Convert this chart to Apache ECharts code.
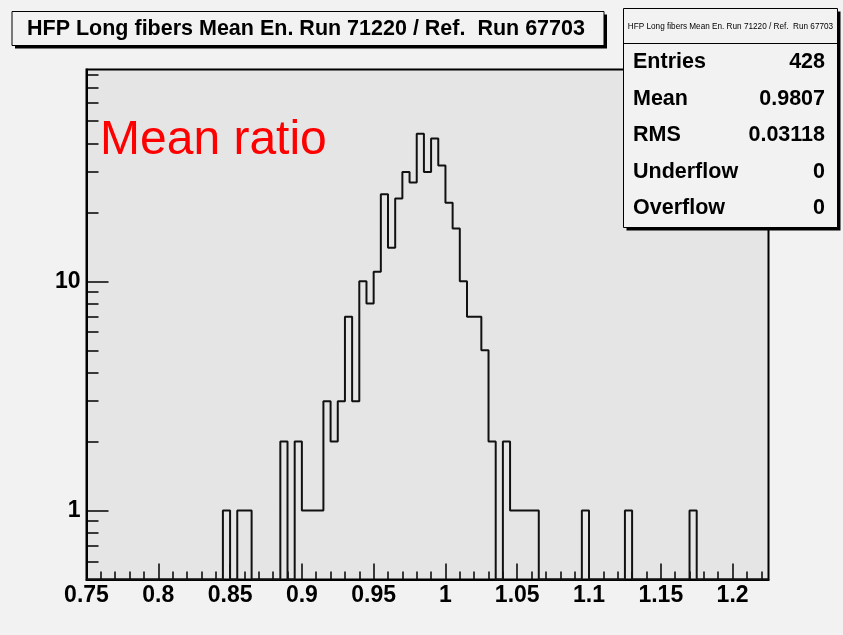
<!DOCTYPE html>
<html>
<head>
<meta charset="utf-8">
<script src="https://cdn.jsdelivr.net/npm/echarts@6/dist/echarts.min.js"></script>
<style>
  html, body { margin: 0; padding: 0; background: #f2f2f2; }
  #chart { width: 843px; height: 635px; }
</style>
</head>
<body>
<div id="chart"></div>
<script>
// Binning of the mean-energy ratio histogram
const BIN_START = 0.75;
const BIN_WIDTH = 0.005;
const X_MIN = 0.75;
const X_MAX = 1.225;
const Y_MIN = 0.5;
const Y_MAX = 84;

// Entries per 0.005-wide bin, first bin starts at 0.75 (95 bins)
const counts = [
  0, 0, 0, 0, 0, 0, 0, 0, 0, 0,
  0, 0, 0, 0, 0, 0, 0, 0, 0, 1,
  0, 1, 1, 0, 0, 0, 0, 2, 0, 2,
  1, 1, 1, 3, 2, 3, 7, 3, 10, 8,
  11, 24, 14, 23, 30, 27, 44, 30, 42, 32,
  22, 17, 10, 7, 7, 5, 2, 0, 2, 1,
  1, 1, 1, 0, 0, 0, 0, 0, 0, 1,
  0, 0, 0, 0, 0, 1, 0, 0, 0, 0,
  0, 0, 0, 0, 1, 0, 0, 0, 0, 0,
  0, 0, 0, 0, 0
];

// Axis tick labels
const xTickLabels = ['0.75', '0.8', '0.85', '0.9', '0.95', '1', '1.05', '1.1', '1.15', '1.2'];
const xMinorStep = 0.01;
const yTickLabels = ['1', '10'];
const yMinorTicks = [0.6, 0.7, 0.8, 0.9, 2, 3, 4, 5, 6, 7, 8, 9, 20, 30, 40, 50, 60, 70, 80];

// Title and statistics box texts
const titleText = 'HFP Long fibers Mean En. Run 71220 / Ref.  Run 67703';
const statNames = ['Entries', 'Mean', 'RMS', 'Underflow', 'Overflow'];
const statValues = ['428', '0.9807', '0.03118', '0', '0'];
const noteText = 'Mean ratio';

const FONT = '"Liberation Sans", Arial, Helvetica, sans-serif';

const xMajor = xTickLabels.map(Number);
const xMinor = [];
for (let v = X_MIN; v <= X_MAX + 1e-9; v += xMinorStep) {
  const r = Math.round(v * 1000) / 1000;
  if (!xMajor.some(m => Math.abs(m - r) < 1e-6)) xMinor.push(r);
}
const yMajor = yTickLabels.map(Number);

// Outline of the histogram: one step per bin, empty bins sit on the frame bottom
const stepData = counts.map((c, i) => [
  Math.round((BIN_START + i * BIN_WIDTH) * 10000) / 10000,
  Math.max(c, Y_MIN)
]);
stepData.push([
  Math.round((BIN_START + counts.length * BIN_WIDTH) * 10000) / 10000,
  Math.max(counts[counts.length - 1], Y_MIN)
]);

function labelFor(list, labels, v) {
  let best = 0;
  for (let i = 1; i < list.length; i++) {
    if (Math.abs(list[i] - v) < Math.abs(list[best] - v)) best = i;
  }
  return labels[best];
}

const GRID = { left: 86.5, top: 69.5, width: 682, height: 510 };

const statsBox = { x: 623.5, y: 8.5, w: 214, h: 219, header: 35 };
const statRowY0 = 62;
const statRowStep = 36.6;

const graphics = [];
// Title pave with shadow
graphics.push({ type: 'rect', z: 10, shape: { x: 15, y: 14.5, width: 592, height: 34 }, style: { fill: '#000' } });
graphics.push({ type: 'rect', z: 11, shape: { x: 12, y: 11.5, width: 592, height: 34 }, style: { fill: '#f2f2f2', stroke: '#000', lineWidth: 1 } });
graphics.push({ type: 'text', z: 12, style: { x: 27, y: 29, text: titleText, font: 'bold 21.5px ' + FONT, fill: '#000', verticalAlign: 'middle' } });

// Statistics pave with shadow
graphics.push({ type: 'rect', z: 10, shape: { x: statsBox.x + 3, y: statsBox.y + 3, width: statsBox.w, height: statsBox.h }, style: { fill: '#000' } });
graphics.push({ type: 'rect', z: 11, shape: { x: statsBox.x, y: statsBox.y, width: statsBox.w, height: statsBox.h }, style: { fill: '#f2f2f2', stroke: '#000', lineWidth: 1 } });
graphics.push({ type: 'line', z: 12, shape: { x1: statsBox.x, y1: statsBox.y + statsBox.header, x2: statsBox.x + statsBox.w, y2: statsBox.y + statsBox.header }, style: { stroke: '#000', lineWidth: 1 } });
graphics.push({ type: 'text', z: 12, style: { x: statsBox.x + statsBox.w / 2, y: statsBox.y + statsBox.header / 2 + 0.5, text: titleText, font: '8.2px ' + FONT, fill: '#000', align: 'center', verticalAlign: 'middle' } });
statNames.forEach((name, i) => {
  const y = statRowY0 + i * statRowStep;
  graphics.push({ type: 'text', z: 12, style: { x: 633, y: y, text: name, font: 'bold 21.5px ' + FONT, fill: '#000', verticalAlign: 'middle' } });
  graphics.push({ type: 'text', z: 12, style: { x: 825, y: y, text: statValues[i], font: 'bold 21.5px ' + FONT, fill: '#000', align: 'right', verticalAlign: 'middle' } });
});

// Red annotation inside the frame
graphics.push({ type: 'text', z: 12, style: { x: 100, y: 141, text: noteText, font: '48px ' + FONT, fill: '#ff0000', verticalAlign: 'middle' } });

const chart = echarts.init(document.getElementById('chart'), null, { renderer: 'canvas' });
chart.setOption({
  backgroundColor: '#f2f2f2',
  animation: false,
  grid: Object.assign({ show: true, backgroundColor: '#e5e5e5', borderColor: '#000', borderWidth: 2, containLabel: false }, GRID),
  xAxis: [
    {
      type: 'value', min: X_MIN, max: X_MAX, position: 'bottom',
      axisLine: { show: true, onZero: false, lineStyle: { color: '#000', width: 2 } },
      axisTick: { show: true, inside: true, length: 16, customValues: xMajor, lineStyle: { color: '#000', width: 1.5 } },
      axisLabel: {
        show: true, customValues: xMajor, margin: 5, color: '#000',
        fontFamily: FONT, fontWeight: 'bold', fontSize: 23,
        formatter: v => labelFor(xMajor, xTickLabels, v)
      },
      splitLine: { show: false }
    },
    {
      type: 'value', min: X_MIN, max: X_MAX, position: 'bottom',
      axisLine: { show: false, onZero: false },
      axisTick: { show: true, inside: true, length: 8, customValues: xMinor, lineStyle: { color: '#000', width: 1.5 } },
      axisLabel: { show: false },
      splitLine: { show: false }
    }
  ],
  yAxis: [
    {
      type: 'log', logBase: 10, min: Y_MIN, max: Y_MAX, position: 'left',
      axisLine: { show: true, onZero: false, lineStyle: { color: '#000', width: 2 } },
      axisTick: { show: true, inside: true, length: 22, customValues: yMajor, lineStyle: { color: '#000', width: 1.5 } },
      axisLabel: {
        show: true, customValues: yMajor, margin: 6, color: '#000',
        fontFamily: FONT, fontWeight: 'bold', fontSize: 23,
        formatter: v => labelFor(yMajor, yTickLabels, v)
      },
      splitLine: { show: false }
    },
    {
      type: 'log', logBase: 10, min: Y_MIN, max: Y_MAX, position: 'left',
      axisLine: { show: false, onZero: false },
      axisTick: { show: true, inside: true, length: 12, customValues: yMinorTicks, lineStyle: { color: '#000', width: 1.5 } },
      axisLabel: { show: false },
      splitLine: { show: false }
    }
  ],
  series: [
    {
      type: 'line',
      xAxisIndex: 0,
      yAxisIndex: 0,
      step: 'end',
      data: stepData,
      symbol: 'none',
      clip: true,
      lineStyle: { color: '#111', width: 2 },
      z: 5
    }
  ],
  graphic: graphics
});
</script>
</body>
</html>
